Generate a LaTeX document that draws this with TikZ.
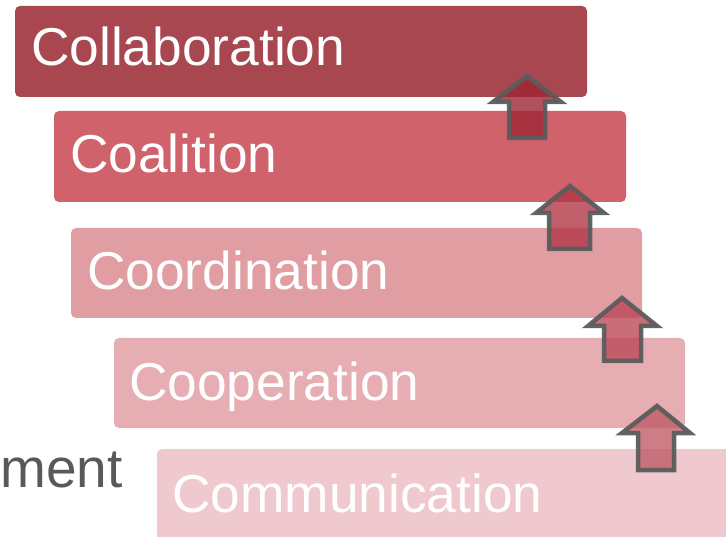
\documentclass[tikz,border=0pt]{standalone}
\usepackage{fontspec}
\setmainfont{Liberation Sans}
\begin{document}
\begin{tikzpicture}[x=1pt,y=-1pt,
  stepbox/.style={rounded corners=5pt},
  steplabel/.style={anchor=base west,inner sep=0pt,text=white,font=\fontsize{53.3}{60}\selectfont},
  uparrow/.style={draw=black!64,line width=4.5pt,line join=miter,fill opacity=0.8,draw opacity=0.95}]
\useasboundingbox (0,0) rectangle (726,537);
\definecolor{cA}{RGB}{168,71,80}
\definecolor{cB}{RGB}{208,98,108}
\definecolor{cC}{RGB}{224,158,163}
\definecolor{cD}{RGB}{230,174,178}
\definecolor{cE}{RGB}{239,201,205}
\definecolor{aA}{RGB}{158,38,52}
\definecolor{aB}{RGB}{178,55,70}
\definecolor{aC}{RGB}{188,72,88}
\definecolor{aD}{RGB}{192,92,104}
\definecolor{grayt}{RGB}{89,89,89}
% text partly outside
\node[anchor=base east,inner sep=0pt,text=grayt,font=\fontsize{55}{60}\selectfont] (ment) at (123,487) {ment};
% boxes
\fill[cA,stepbox] (15,6) rectangle (587,97);
\fill[cB,stepbox] (54,111) rectangle (626,202);
\fill[cC,stepbox] (71,228) rectangle (642,318);
\fill[cD,stepbox] (114,338) rectangle (685,428);
\fill[cE,stepbox] (157,449) rectangle (740,550);
\node[steplabel] (collab) at (31,66) {Collaboration};
\node[steplabel] (coal) at (70,173) {Coalition};
\node[steplabel] (coord) at (87,290) {Coordination};
\node[steplabel] (coop) at (129,400) {Cooperation};
\node[steplabel] (comm) at (172,512) {Communication};
% arrows
\draw[uparrow,fill=aA] (527,76) -- (561,102) -- (545,102) -- (545,138) -- (509,138) -- (509,102) -- (493,102) -- cycle;
\draw[uparrow,fill=aB] (570,186) -- (604,213) -- (590,213) -- (590,249) -- (549,249) -- (549,213) -- (536,213) -- cycle;
\draw[uparrow,fill=aC] (622,298) -- (657,326) -- (641,326) -- (641,361) -- (604,361) -- (604,326) -- (588,326) -- cycle;
\draw[uparrow,fill=aD] (657,406) -- (690,433) -- (674,433) -- (674,470) -- (638,470) -- (638,433) -- (622,433) -- cycle;
\end{tikzpicture}
\end{document}
